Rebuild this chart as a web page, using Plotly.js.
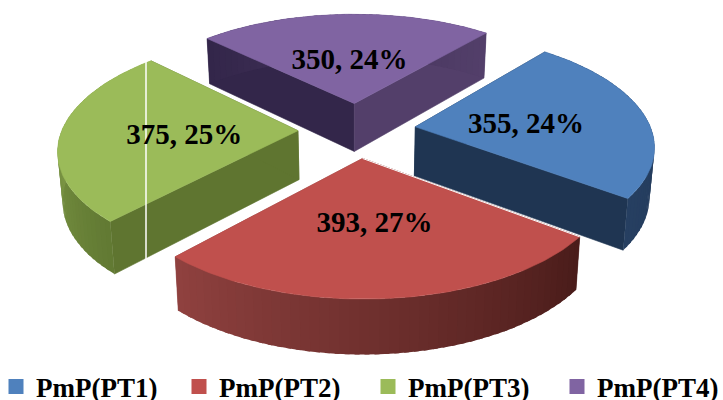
<!DOCTYPE html>
<html><head><meta charset="utf-8">
<script src="https://cdn.plot.ly/plotly-3.0.1.min.js"></script>
<style>html,body{margin:0;padding:0;background:#fff}#c{width:723px;height:400px}</style>
</head><body><div id="c"></div>
<script>
const categories = ["PmP(PT1)","PmP(PT2)","PmP(PT3)","PmP(PT4)"];
const values = [355,393,375,350];
const topColors = ["#4F81BD","#C0504D","#9BBB59","#8064A2"];
const startWall = ["#1F3552","#4A1C1A","#5F7530","#33264A"];
const endWall = ["#1F3552","#8F413F","#5F7530","#533F6A"];
const arcFrom = ["#1F3552","#4A1C1A","#627A33","#33264A"];
const arcTo = ["#263F61","#8F413F","#93B055","#533F6A"];
const drawOrder = [3,2,0,1];
const legendLeft = [-4,179,368,557];

// view of the tilted pie
const firstAngle = 40, explode = 0.25, cx = 357, cy = 130;
const R = 236, S = 110, k = 0.15, H = 49, taper = 0.017, labelDrop = 4.5;
const fontFam = '"Liberation Serif", serif';

const rad = d => d*Math.PI/180;
function proj(X,Y,z){
  const s = 1/(1-k*Y);
  return [cx + R*X*s*(1-taper*z), cy + S*Y*s + H*z*Math.pow(s,0.6)];
}
function mix(a,b,t){
  const p=c=>[1,3,5].map(i=>parseInt(c.substr(i,2),16));
  const A=p(a),B=p(b);
  return "rgb("+A.map((v,i)=>Math.round(v+(B[i]-v)*t)).join(",")+")";
}
const total = values.reduce((a,b)=>a+b,0);
const spans = []; let acc = firstAngle;
values.forEach(v=>{const d=v/total*360; spans.push([acc,acc+d]); acc+=d;});

const traces = [];
function poly(pts,color,w){
  traces.push({type:"scatter",mode:"lines",x:pts.map(p=>p[0]).concat(pts[0][0]),y:pts.map(p=>p[1]).concat(pts[0][1]),
    fill:"toself",fillcolor:color,line:{color:color,width:w===undefined?0.6:w},hoverinfo:"skip",showlegend:false});
}
const labelX=[],labelY=[],labelT=[];
drawOrder.forEach(i=>{
  const [a0,a1]=spans[i], mid=rad((a0+a1)/2);
  const ox=explode*Math.sin(mid), oy=-explode*Math.cos(mid);
  const P=(th,r,z)=>proj(ox+r*Math.sin(rad(th)),oy-r*Math.cos(rad(th)),z);
  poly([P(a0,0,0),P(a0,1,0),P(a0,1,1),P(a0,0,1)],startWall[i]);
  poly([P(a1,0,0),P(a1,1,0),P(a1,1,1),P(a1,0,1)],endWall[i]);
  const n=Math.round((a1-a0)/2), step=(a1-a0)/n;
  for(let j=0;j<n;j++){
    const t0=a0+step*j,t1=Math.min(a1,t0+step*1.5);
    poly([P(t0,1,0),P(t1,1,0),P(t1,1,1),P(t0,1,1)],mix(arcFrom[i],arcTo[i],j/(n-1)),0);
  }
  const top=[P(a0,0,0)];
  for(let j=0;j<=n*2;j++) top.push(P(a0+(a1-a0)*j/(n*2),1,0));
  poly(top,topColors[i]);
  if(i===1){
    const e0=P(a0,0,0),e1=P(a0,1,0);
    traces.push({type:"scatter",mode:"lines",x:[e0[0],e1[0]],y:[e0[1],e1[1]],line:{color:"#fff",width:1},hoverinfo:"skip",showlegend:false});
  }
  const L=P((a0+a1)/2,0.48,0);
  labelX.push(L[0]);labelY.push(L[1]+labelDrop);
  labelT.push(values[i]+", "+Math.round(values[i]/total*100)+"%");
});
traces.push({type:"scatter",mode:"lines",x:[146,146],y:[62,259],line:{color:"#fff",width:1.5},hoverinfo:"skip",showlegend:false});
traces.push({type:"scatter",mode:"text",x:labelX,y:labelY,text:labelT,textposition:"middle center",
  textfont:{family:fontFam,size:29,color:"#000",weight:700},hoverinfo:"skip",showlegend:false});
const layout={
  width:723,height:400,margin:{l:0,r:0,t:0,b:0,autoexpand:false},paper_bgcolor:"#fff",plot_bgcolor:"#fff",
  xaxis:{range:[0,723],visible:false,fixedrange:true},
  yaxis:{range:[400,0],visible:false,fixedrange:true},
  showlegend:true
};
categories.forEach((c,i)=>{
  const id=i?"legend"+(i+1):"legend";
  traces.push({type:"scatter",mode:"markers",x:[null],y:[null],name:c,legend:id,
    marker:{symbol:"square",size:15,color:topColors[i]},hoverinfo:"skip",showlegend:true});
  layout[id]={orientation:"h",x:legendLeft[i]/723,xanchor:"left",y:0.094,yanchor:"top",
    font:{family:fontFam,size:27,color:"#000",weight:700},bgcolor:"rgba(0,0,0,0)",itemclick:false,itemdoubleclick:false};
});
Plotly.newPlot("c",traces,layout,{displayModeBar:false,staticPlot:true});
</script></body></html>
